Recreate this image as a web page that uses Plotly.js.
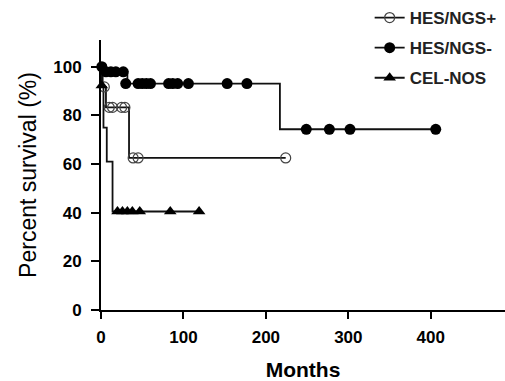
<!DOCTYPE html>
<html>
<head>
<meta charset="utf-8">
<script src="https://cdn.plot.ly/plotly-3.0.1.min.js"></script>
<style>html,body{margin:0;padding:0;background:#fff;}#chart{width:505px;height:381px;}</style>
</head>
<body>
<div id="chart"></div>
<script>
// Series names
var seriesNames = ["HES/NGS+", "HES/NGS-", "CEL-NOS"];

// HES/NGS+ (open circles)
var posStepX = [0, 2, 6, 34, 224];
var posStepY = [100, 91.7, 83.3, 62.5, 62.5];
var posCensX = [4, 10, 14, 25, 29, 39, 45, 224];
var posCensY = [91.7, 83.3, 83.3, 83.3, 83.3, 62.5, 62.5, 62.5];

// HES/NGS- (filled circles)
var negStepX = [0, 3, 32, 217, 406];
var negStepY = [100, 97.9, 93.1, 74.3, 74.3];
var negCensX = [1, 6, 12, 18, 27, 30, 45, 50, 55, 60, 82, 87, 93, 106, 153, 177, 249, 277, 302, 406];
var negCensY = [100, 97.9, 97.9, 97.9, 97.9, 93.1, 93.1, 93.1, 93.1, 93.1, 93.1, 93.1, 93.1, 93.1, 93.1, 93.1, 74.3, 74.3, 74.3, 74.3];

// CEL-NOS (triangles)
var celStepX = [0, 1, 3, 7, 14, 119];
var celStepY = [100, 92.3, 75, 61, 40.5, 40.5];
var celCensX = [1, 20, 26, 32, 38, 47, 84, 119];
var celCensY = [92.3, 40.5, 40.5, 40.5, 40.5, 40.5, 40.5, 40.5];

// Axis ticks
var xTicks = [0, 100, 200, 300, 400];
var yTicks = [0, 20, 40, 60, 80, 100];

var lineStyle = {color: "#111", width: 1.8, shape: "hv"};
var markers = [
  {symbol: "circle-open", size: 10, color: "#444", line: {width: 1.2, color: "#444"}},
  {symbol: "circle", size: 11, color: "#000"},
  {symbol: "triangle-up", size: 11, color: "#000"}
];
var steps = [[posStepX, posStepY], [negStepX, negStepY], [celStepX, celStepY]];
var cens = [[posCensX, posCensY], [negCensX, negCensY], [celCensX, celCensY]];

var traces = [];
for (var i = 0; i < 3; i++) {
  traces.push({x: steps[i][0], y: steps[i][1], mode: "lines", line: lineStyle,
    showlegend: false, hoverinfo: "skip", cliponaxis: false});
}
for (var j = 0; j < 3; j++) {
  traces.push({x: cens[j][0], y: cens[j][1], mode: "markers", marker: markers[j],
    showlegend: false, cliponaxis: false});
}
for (var k = 0; k < 3; k++) {
  traces.push({x: [null], y: [null], mode: "lines+markers", name: seriesNames[k],
    line: {color: "#111", width: 1.8}, marker: markers[k], legendgroup: "g" + k});
}

var tickFont = {family: "Arial, Liberation Sans, sans-serif", size: 17, color: "#000", weight: "bold"};

var layout = {
  width: 505, height: 381,
  margin: {l: 101, r: 0, t: 40, b: 71},
  paper_bgcolor: "#fff", plot_bgcolor: "#fff",
  showlegend: true,
  legend: {x: 0.665, xanchor: "left", y: 1.15, yanchor: "top", bgcolor: "rgba(0,0,0,0)",
    font: {family: "Arial, Liberation Sans, sans-serif", size: 17, color: "#222", weight: "bold"},
    tracegroupgap: 5, itemwidth: 30},
  xaxis: {range: [0, 490], tickvals: xTicks, ticktext: xTicks.map(String), showgrid: false, zeroline: false,
    showline: true, linecolor: "#000", linewidth: 2, ticks: "outside", ticklen: 7, tickwidth: 2, tickcolor: "#000",
    tickfont: tickFont, automargin: false, ticklabelstandoff: 4,
    title: {text: "Months", font: {family: "Arial, Liberation Sans, sans-serif", size: 21, color: "#000", weight: "bold"}, standoff: 16}},
  yaxis: {range: [0, 111], tickvals: yTicks, ticktext: yTicks.map(String), showgrid: false, zeroline: false,
    showline: true, linecolor: "#000", linewidth: 2, ticks: "outside", ticklen: 8, tickwidth: 2, tickcolor: "#000",
    tickfont: tickFont, automargin: false, ticklabelstandoff: 6,
    title: {text: "Percent survival (%)", font: {family: "Arial, Liberation Sans, sans-serif", size: 23, color: "#000"}, standoff: 10}}
};

Plotly.newPlot("chart", traces, layout, {displayModeBar: false, staticPlot: true});
</script>
</body>
</html>
